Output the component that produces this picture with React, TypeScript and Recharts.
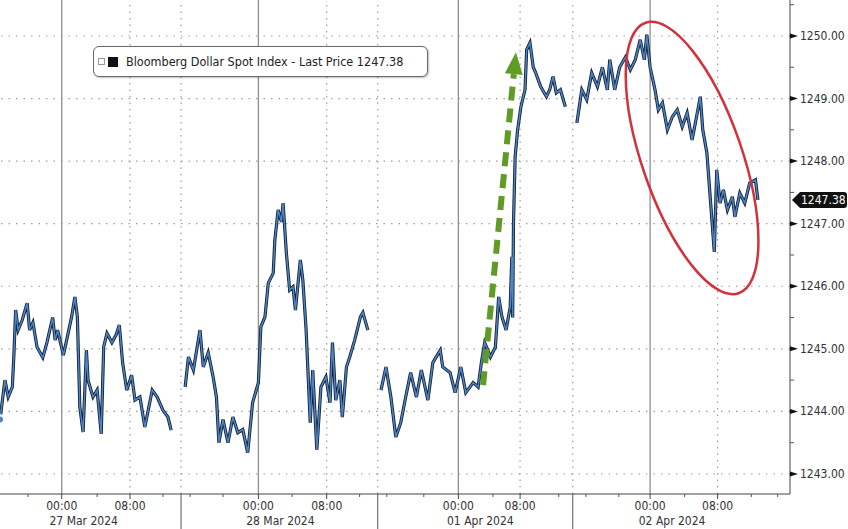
import { LineChart, Line, XAxis, YAxis, ReferenceLine, ReferenceDot } from 'recharts';

// session times are hours from the chart's left edge (Bloomberg compresses the gaps)
const S1_T = [0.0, 0.6, 1.0, 1.5, 1.7, 1.9, 2.2, 2.7, 3.3, 3.6, 4.0, 4.5, 5.2, 5.7, 6.4, 6.7, 7.0, 7.7, 8.1, 8.7, 9.1, 9.4, 9.7, 10.1, 10.5, 10.7, 11.3, 11.8, 12.3, 12.6, 13.0, 13.6, 14.1, 14.5, 14.9, 15.4, 16.0, 16.4, 17.0, 17.6, 18.5, 19.1, 19.8, 20.4, 20.8];
const S1_V = [1243.87, 1244.5, 1244.23, 1244.39, 1244.94, 1245.62, 1245.3, 1245.46, 1245.73, 1245.3, 1245.42, 1245.03, 1244.86, 1245.1, 1245.5, 1245.14, 1245.3, 1244.9, 1245.14, 1245.51, 1245.83, 1245.51, 1244.07, 1243.67, 1244.98, 1244.5, 1244.23, 1244.34, 1243.64, 1245.03, 1245.25, 1245.1, 1245.22, 1245.38, 1244.78, 1244.34, 1244.58, 1244.18, 1244.23, 1243.75, 1244.34, 1244.23, 1244.02, 1243.91, 1243.7];

const S2_T = [22.5, 22.9, 23.5, 24.3, 24.7, 25.3, 25.9, 26.3, 26.6, 27.1, 27.7, 28.3, 28.9, 29.5, 30.1, 30.7, 31.4, 31.7, 32.2, 32.6, 33.2, 33.4, 33.8, 34.2, 34.4, 34.8, 35.2, 35.6, 35.9, 36.5, 36.8, 37.2, 37.7, 38.0, 38.5, 39.0, 39.6, 40.1, 40.4, 40.8, 41.3, 41.6, 42.1, 42.5, 43.1, 43.8, 44.1, 44.7];
const S2_V = [1244.39, 1244.87, 1244.66, 1245.3, 1244.71, 1244.94, 1244.55, 1244.23, 1243.5, 1243.87, 1243.5, 1243.91, 1243.66, 1243.71, 1243.34, 1244.14, 1244.46, 1245.35, 1245.51, 1246.05, 1246.21, 1246.74, 1247.22, 1247.03, 1247.33, 1246.53, 1245.94, 1245.99, 1245.62, 1246.42, 1246.1, 1245.3, 1243.82, 1244.66, 1243.39, 1244.39, 1244.55, 1244.14, 1245.1, 1244.18, 1244.5, 1243.91, 1244.71, 1244.87, 1245.14, 1245.51, 1245.58, 1245.3];

const S3_T = [46.3, 46.9, 47.5, 48.1, 48.7, 49.3, 49.9, 50.6, 51.2, 52.0, 52.6, 53.5, 53.8, 54.7, 55.3, 56.0, 56.6, 57.5, 58.1, 58.5, 58.9, 59.6, 60.2, 60.6, 61.0, 61.5, 62.0, 62.2, 62.3, 62.4, 62.6, 62.9, 63.3, 63.8, 64.0, 64.4, 64.8, 65.1, 65.7, 66.4, 66.8, 67.2, 67.6, 68.1, 68.7];
const S3_V = [1244.34, 1244.71, 1244.23, 1243.59, 1243.82, 1244.23, 1244.62, 1244.23, 1244.66, 1244.18, 1244.78, 1244.98, 1244.71, 1244.62, 1244.3, 1244.71, 1244.3, 1244.46, 1244.39, 1244.78, 1245.1, 1244.87, 1245.03, 1245.83, 1245.51, 1245.3, 1245.67, 1246.47, 1245.5, 1247.01, 1248.07, 1248.5, 1248.87, 1249.14, 1249.78, 1249.89, 1249.5, 1249.41, 1249.19, 1249.03, 1249.14, 1249.35, 1249.09, 1249.14, 1248.87];

const S4_T = [70.1, 70.7, 71.3, 71.9, 72.6, 73.2, 73.8, 74.1, 74.7, 75.3, 76.0, 76.6, 77.2, 77.8, 78.3, 78.6, 79.0, 79.6, 80.0, 80.5, 81.1, 81.7, 82.3, 82.9, 83.5, 84.1, 84.5, 85.1, 85.4, 85.9, 86.3, 86.6, 86.8, 87.1, 87.5, 87.9, 88.4, 89.0, 89.3, 89.9, 90.5, 91.1, 91.8, 92.1];
const S4_V = [1248.61, 1249.14, 1248.98, 1249.41, 1249.19, 1249.5, 1249.14, 1249.62, 1249.14, 1249.5, 1249.66, 1249.46, 1249.62, 1249.94, 1249.62, 1250.02, 1249.5, 1249.14, 1248.82, 1248.93, 1248.5, 1248.71, 1248.82, 1248.55, 1248.77, 1248.34, 1248.61, 1249.03, 1248.5, 1248.13, 1247.43, 1246.9, 1246.55, 1247.86, 1247.33, 1247.54, 1247.22, 1247.43, 1247.11, 1247.49, 1247.33, 1247.65, 1247.7, 1247.38];

const LAST_PRICE = 1247.38;
const SERIES_NAME = 'Bloomberg Dollar Spot Index - Last Price';

// x axis (hours)
const MIDNIGHT = [7.5, 31.4, 55.7, 79.0];
const EIGHT = [15.8, 39.7, 63.2, 87.2];
const BREAKS = [22.0, 45.9, 69.6];
const MINOR = [3.4, 11.8, 19.8, 23.1, 27.1, 35.5, 43.7, 47.0, 51.5, 59.9, 67.9, 71.2, 75.2, 83.2, 91.3, 94.5];
const DATES = ['27 Mar 2024', '28 Mar 2024', '01 Apr 2024', '02 Apr 2024'];

// y axis
const Y_MAJOR = [1243, 1244, 1245, 1246, 1247, 1248, 1249, 1250];
const Y_DOMAIN = [1242.68, 1250.575];

// annotations
const ARROW_FROM = { x: 58.7, y: 1244.42 };
const ARROW_TO = { x: 62.7, y: 1249.74 };
const RING_CENTER = { x: 84.1, y: 1248.05 };

const FONT = '"DejaVu Sans Condensed", "DejaVu Sans", sans-serif';

const SESSIONS = [[S1_T, S1_V], [S2_T, S2_V], [S3_T, S3_V], [S4_T, S4_V]];
const data: { t: number; v: number | null }[] = [];
SESSIONS.forEach(([ts, vs], i) => {
  if (i > 0) data.push({ t: BREAKS[i - 1], v: null });
  ts.forEach((t, j) => data.push({ t, v: vs[j] }));
});

const X_TICKS = [...MIDNIGHT, ...EIGHT, ...BREAKS, ...MINOR].sort((a, b) => a - b);
const Y_TICKS = [...Y_MAJOR, ...Y_MAJOR.map((v) => v + 0.5)].filter((v) => v <= Y_DOMAIN[1]).sort((a, b) => a - b);

function XTick({ x, y, payload }: any) {
  const v = payload.value;
  const mi = MIDNIGHT.indexOf(v);
  if (mi >= 0) {
    return (
      <g>
        <line x1={x} y1={y} x2={x} y2={y + 5} stroke="#444" />
        <text x={x} y={y + 16} textAnchor="middle" fontSize={12} fontFamily={FONT} fill="#333">00:00</text>
        <text x={x + 22} y={y + 31} textAnchor="middle" fontSize={12} fontFamily={FONT} fill="#333">{DATES[mi]}</text>
      </g>
    );
  }
  if (EIGHT.includes(v)) {
    return (
      <g>
        <line x1={x} y1={y} x2={x} y2={y + 5} stroke="#444" />
        <text x={x} y={y + 16} textAnchor="middle" fontSize={12} fontFamily={FONT} fill="#333">08:00</text>
      </g>
    );
  }
  if (BREAKS.includes(v)) {
    return <line x1={x} y1={y} x2={x} y2={y + 36} stroke="#555" />;
  }
  return <line x1={x} y1={y} x2={x} y2={y + 3} stroke="#555" />;
}

function YTick({ x, y, payload }: any) {
  const v = payload.value;
  if (!Number.isInteger(v)) {
    return <line x1={x} y1={y} x2={x + 4} y2={y} stroke="#555" />;
  }
  return (
    <g>
      <polygon points={`${x},${y - 2.5} ${x + 8},${y} ${x},${y + 2.5}`} fill="#111" />
      <text x={x + 10} y={y} dominantBaseline="central" fontSize={12} fontFamily={FONT} fill="#333">
        {v.toFixed(2)}
      </text>
    </g>
  );
}

function ArrowShape({ x1, y1, x2, y2 }: any) {
  const dx = x2 - x1;
  const dy = y2 - y1;
  const len = Math.sqrt(dx * dx + dy * dy);
  const ux = dx / len;
  const uy = dy / len;
  const head = 22;
  const bx = x2 - ux * head;
  const by = y2 - uy * head;
  const px = -uy * 9;
  const py = ux * 9;
  return (
    <g>
      <line x1={x1} y1={y1} x2={bx} y2={by} stroke="#5f9b26" strokeWidth={6} strokeDasharray="14 8" />
      <polygon points={`${x2},${y2} ${bx + px},${by + py} ${bx - px},${by - py}`} fill="#5f9b26" />
    </g>
  );
}

function RingShape({ cx, cy }: any) {
  return (
    <ellipse cx={cx} cy={cy} rx={50} ry={143} transform={`rotate(-19 ${cx} ${cy})`}
      fill="none" stroke="#d2323c" strokeWidth={2.5} />
  );
}

function PriceTag({ cx, cy }: any) {
  const x = cx + 2;
  return (
    <g>
      <path d={`M${x},${cy} L${x + 8},${cy - 8} L${x + 52},${cy - 8} Q${x + 55},${cy - 8} ${x + 55},${cy - 5} L${x + 55},${cy + 5} Q${x + 55},${cy + 8} ${x + 52},${cy + 8} L${x + 8},${cy + 8} Z`} fill="#111" />
      <text x={x + 9} y={cy} dominantBaseline="central" fontSize={12} fontFamily={FONT} fill="#fff">
        {LAST_PRICE.toFixed(2)}
      </text>
    </g>
  );
}

export default function App() {
  return (
    <div style={{ position: 'absolute', left: 0, top: 0, width: 848, height: 529, background: '#fff' }}>
      <LineChart width={848} height={529} data={data} margin={{ top: 0, right: 0, bottom: 0, left: 0 }}>
        <XAxis dataKey="t" type="number" domain={[0, 96]} ticks={X_TICKS} interval={0} height={35}
          axisLine={{ stroke: '#444' }} tickLine={false} tickSize={0} tickMargin={0} tick={<XTick />} allowDataOverflow />
        <YAxis orientation="right" type="number" domain={Y_DOMAIN} ticks={Y_TICKS} interval={0} width={58}
          axisLine={{ stroke: '#444' }} tickLine={false} tickSize={0} tickMargin={0} tick={<YTick />} allowDataOverflow />
        {Y_MAJOR.map((v) => (
          <ReferenceLine key={'h' + v} y={v} stroke="#9c9c9c" strokeWidth={1.2} strokeDasharray="1.5 6" />
        ))}
        {MIDNIGHT.map((v) => (
          <ReferenceLine key={'m' + v} x={v} stroke="#8f8f8f" strokeWidth={1.3} />
        ))}
        {[...EIGHT, ...BREAKS].map((v) => (
          <ReferenceLine key={'d' + v} x={v} stroke="#9c9c9c" strokeWidth={1.2} strokeDasharray="1.5 5" />
        ))}
        <Line type="linear" dataKey="v" stroke="#16202c" strokeWidth={3.2} dot={false} isAnimationActive={false} />
        <Line type="linear" dataKey="v" stroke="#4b84cc" strokeWidth={1.5} dot={false} isAnimationActive={false} />
        <ReferenceLine segment={[ARROW_FROM, ARROW_TO]} shape={<ArrowShape />} />
        <ReferenceDot x={RING_CENTER.x} y={RING_CENTER.y} r={0} shape={<RingShape />} />
        <ReferenceDot x={96} y={LAST_PRICE} r={0} shape={<PriceTag />} />
      </LineChart>
      <div style={{
        position: 'absolute', left: 93, top: 46, width: 333, height: 29, border: '1.5px solid #6a6a6a',
        borderRadius: 6, background: '#fff', boxShadow: '1px 1px 2px rgba(0,0,0,0.25)',
        display: 'flex', alignItems: 'center', fontFamily: FONT, fontSize: 12.5, color: '#222',
      }}>
        <span style={{ width: 5, height: 5, border: '1px solid #999', marginLeft: 4, marginRight: 3 }} />
        <span style={{ width: 10, height: 10, background: '#111', marginRight: 8 }} />
        <span>{SERIES_NAME} {LAST_PRICE.toFixed(2)}</span>
      </div>
    </div>
  );
}
